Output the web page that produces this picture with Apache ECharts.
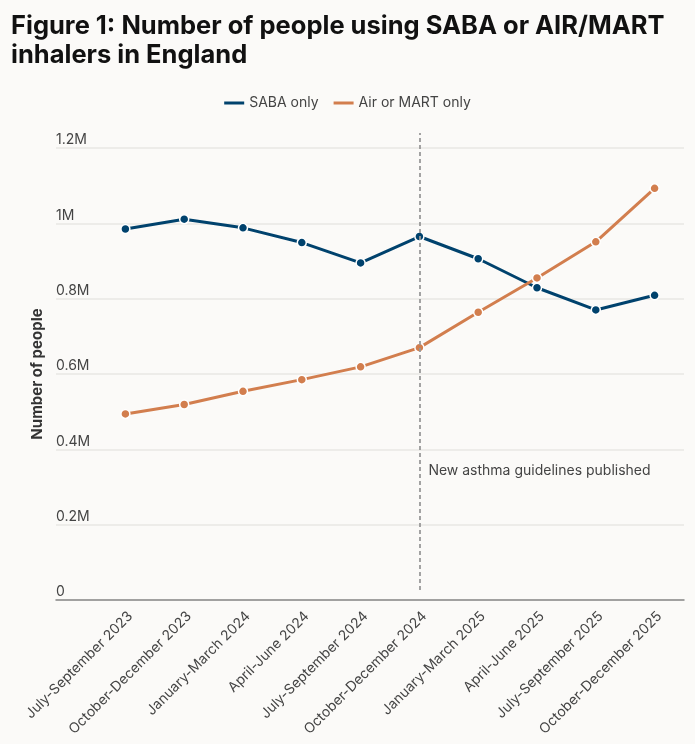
<!DOCTYPE html>
<html>
<head>
<meta charset="utf-8">
<title>Figure 1</title>
<script src="https://cdn.jsdelivr.net/npm/echarts@6/dist/echarts.min.js"></script>
<style>
  html, body { margin: 0; padding: 0; background: #fbfaf8; }
  #chart { width: 695px; height: 744px; }
</style>
</head>
<body>
<div id="chart"></div>
<script>
// ── 資料 ─────────────────────────────────────────────
const quarters = [
  'July-September 2023', 'October-December 2023', 'January-March 2024',
  'April-June 2024', 'July-September 2024', 'October-December 2024',
  'January-March 2025', 'April-June 2025', 'July-September 2025',
  'October-December 2025'
];
const sabaOnly = [985000, 1011000, 988000, 949000, 895000, 965000, 906000, 829000, 770000, 809000];
const airMartOnly = [494000, 519000, 554000, 585000, 619000, 670000, 764000, 855000, 951000, 1093000];
const yTickLabels = ['0', '0.2M', '0.4M', '0.6M', '0.8M', '1M', '1.2M'];

const guidelineQuarter = 'October-December 2024';
const guidelineText = 'New asthma guidelines published';

// ── 圖表 ─────────────────────────────────────────────
const FONT = 'Inter, "Noto Sans", sans-serif';
const chart = echarts.init(document.getElementById('chart'));

const option = {
  backgroundColor: '#fbfaf8',
  textStyle: { fontFamily: FONT },
  title: {
    text: 'Figure 1: Number of people using SABA or AIR/MART\ninhalers in England',
    left: 6,
    top: 7,
    textStyle: { fontFamily: FONT, fontSize: 25.5, fontWeight: 'bold', color: '#111', lineHeight: 29 }
  },
  legend: {
    top: 91,
    left: 'center',
    icon: 'rect',
    itemWidth: 20,
    itemHeight: 3,
    itemGap: 15,
    itemStyle: { borderWidth: 0 },
    textStyle: { fontFamily: FONT, fontSize: 14, color: '#444' },
    data: ['SABA only', 'Air or MART only']
  },
  grid: [
    { left: 96, right: 11, top: 148, bottom: 144 },   // 資料
    { left: 56, right: 11, top: 148, bottom: 144 },   // 背景格線
    { left: 96, right: 11, top: 133, bottom: 154 }    // 政策線
  ],
  xAxis: [
    {
      type: 'category',
      gridIndex: 0,
      data: quarters,
      axisLine: { show: false },
      axisTick: { show: false },
      axisLabel: {
        rotate: 45, align: 'right', verticalAlign: 'top', margin: 9,
        interval: 0, fontFamily: FONT, fontSize: 14, color: '#444'
      }
    },
    {
      type: 'value',
      gridIndex: 1,
      min: 0, max: 1,
      axisLine: { show: true, lineStyle: { color: '#888', width: 1.5 } },
      axisTick: { show: false },
      axisLabel: { show: false },
      splitLine: { show: false }
    },
    {
      type: 'category',
      gridIndex: 2,
      data: quarters,
      show: false
    }
  ],
  yAxis: [
    {
      type: 'value',
      gridIndex: 0,
      min: 0, max: 1200000, interval: 200000,
      axisLine: { show: false },
      axisTick: { show: false },
      axisLabel: { show: false },
      splitLine: { show: false }
    },
    {
      type: 'value',
      gridIndex: 1,
      min: 0, max: 1200000, interval: 200000,
      name: 'Number of people',
      nameLocation: 'middle',
      nameGap: 5,
      nameRotate: 90,
      nameTextStyle: { fontFamily: FONT, fontSize: 15, fontWeight: 'bold', color: '#333' },
      axisLine: { show: false },
      axisTick: { show: false },
      axisLabel: {
        inside: true, margin: 0, align: 'left', verticalAlign: 'bottom',
        padding: [0, 0, 1, 0],
        fontFamily: FONT, fontSize: 14, color: '#444',
        formatter: (v, i) => yTickLabels[i]
      },
      splitLine: { lineStyle: { color: '#e9e7e4', width: 1.5 } }
    },
    {
      type: 'value',
      gridIndex: 2,
      min: 0, max: 1,
      show: false
    }
  ],
  series: [
    {
      name: 'SABA only',
      type: 'line',
      xAxisIndex: 0, yAxisIndex: 0,
      data: sabaOnly,
      z: 3,
      color: '#00426d',
      symbol: 'circle',
      symbolSize: 9,
      lineStyle: { width: 3 },
      itemStyle: { borderColor: '#fff', borderWidth: 1.5 },
      emphasis: { disabled: true },
      markPoint: {
        silent: true,
        symbol: 'circle',
        symbolSize: 0,
        label: {
          show: true, position: 'right', distance: 9,
          fontFamily: FONT, fontSize: 14, color: '#444',
          formatter: guidelineText
        },
        data: [{ coord: [guidelineQuarter, 342000] }]
      }
    },
    {
      name: 'Air or MART only',
      type: 'line',
      xAxisIndex: 0, yAxisIndex: 0,
      data: airMartOnly,
      z: 3,
      color: '#d27e4e',
      symbol: 'circle',
      symbolSize: 9,
      lineStyle: { width: 3 },
      itemStyle: { borderColor: '#fff', borderWidth: 1.5 },
      emphasis: { disabled: true }
    },
    {
      // 政策發布的垂直虛線
      name: 'guideline',
      type: 'line',
      xAxisIndex: 2, yAxisIndex: 2,
      data: [],
      z: 2,
      markLine: {
        silent: true,
        symbol: 'none',
        lineStyle: { color: '#999', type: [4, 3], width: 1.8 },
        label: { show: false },
        data: [{ xAxis: guidelineQuarter }]
      }
    }
  ]
};

chart.setOption(option);
window.addEventListener('resize', () => chart.resize());
</script>
</body>
</html>
